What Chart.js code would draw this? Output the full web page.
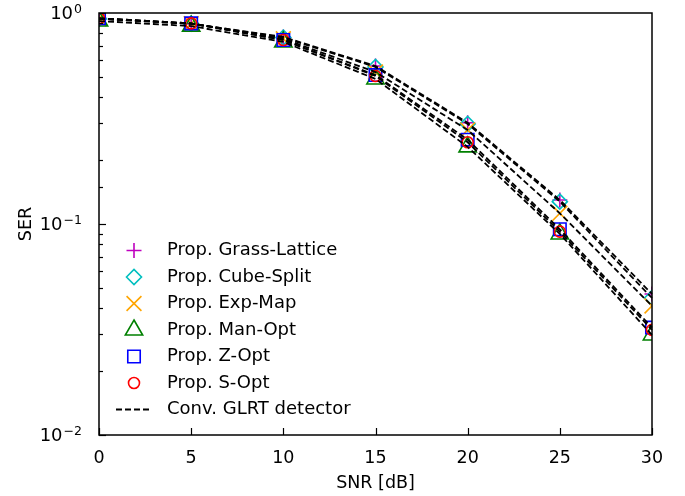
<!DOCTYPE html>
<html>
<head>
<meta charset="utf-8">
<script src="https://cdn.jsdelivr.net/npm/chart.js@4.4.1/dist/chart.umd.min.js"></script>
<style>
  html, body { margin: 0; padding: 0; background: #fff; }
  #wrap { width: 685px; height: 496px; }
</style>
</head>
<body>
<div id="wrap"><canvas id="serChart"></canvas></div>
<script>
// SNR points (dB)
const snr = [0, 5, 10, 15, 20, 25, 30];

// SER
const grassLattice = [0.940, 0.890, 0.770, 0.561, 0.302, 0.130, 0.0466];
const cubeSplit    = [0.940, 0.890, 0.765, 0.555, 0.298, 0.1276, 0.0446];
const expMap       = [0.940, 0.890, 0.755, 0.525, 0.279, 0.1124, 0.0409];
const manOpt       = [0.916, 0.867, 0.729, 0.487, 0.232, 0.0897, 0.0298];
const zOpt         = [0.944, 0.893, 0.745, 0.508, 0.251, 0.0944, 0.0323];
const sOpt         = [0.944, 0.893, 0.745, 0.503, 0.244, 0.0920, 0.0315];

const xTicks = [0, 5, 10, 15, 20, 25, 30];
const yDecades = [1, 0.1, 0.01];
const yDecadeExp = ['0', '\u22121', '\u22122'];

const FONT = "'DejaVu Sans', sans-serif";
const DASH = [6, 3];

function pts(arr) { return snr.map((s, i) => ({ x: s, y: arr[i] })); }

function markerSet(label, data, color, style, radius, order) {
  return {
    label: label, data: pts(data), showLine: false,
    borderColor: color, backgroundColor: 'rgba(0,0,0,0)',
    pointStyle: style, pointRadius: radius, pointHoverRadius: radius,
    pointBorderWidth: 1.6, pointBackgroundColor: 'rgba(0,0,0,0)',
    clip: 0, order: order, isMarker: true
  };
}

function glrtLine(data) {
  return {
    label: 'Conv. GLRT detector', data: pts(data),
    borderColor: '#000', borderWidth: 1.8, borderDash: DASH,
    pointRadius: 0, fill: false, tension: 0, clip: 2, order: 0
  };
}

const datasets = [
  markerSet('Prop. Grass-Lattice', grassLattice, '#bf00bf', 'cross', 7.5, 6),
  markerSet('Prop. Cube-Split', cubeSplit, '#00bfbf', 'rectRot', 7.5, 5),
  markerSet('Prop. Exp-Map', expMap, '#ffa500', 'crossRot', 10.5, 4),
  markerSet('Prop. Man-Opt', manOpt, '#008000', 'triangle', 10, 3),
  markerSet('Prop. Z-Opt', zOpt, '#0000ff', 'rect', 8.8, 2),
  markerSet('Prop. S-Opt', sOpt, '#ff0000', 'circle', 5.5, 1),
  glrtLine(grassLattice), glrtLine(cubeSplit), glrtLine(expMap),
  glrtLine(manOpt), glrtLine(zOpt), glrtLine(sOpt)
];

function isDecade(v) {
  const l = Math.log10(v);
  return Math.abs(l - Math.round(l)) < 1e-6;
}

function drawMarker(ctx, ds, x, y) {
  ctx.save();
  ctx.strokeStyle = ds.borderColor;
  ctx.fillStyle = 'rgba(0,0,0,0)';
  ctx.lineWidth = ds.pointBorderWidth;
  Chart.helpers.drawPoint(ctx, { pointStyle: ds.pointStyle, radius: ds.pointRadius, rotation: 0, borderWidth: ds.pointBorderWidth }, x, y);
  ctx.restore();
}

const axesDecor = {
  id: 'axesDecor',
  afterDraw(chart) {
    const { ctx, chartArea: a, scales: { x, y } } = chart;
    ctx.save();
    ctx.strokeStyle = '#000';
    ctx.lineWidth = 1.2;
    // y ticks, pointing in
    y.ticks.forEach(t => {
      const py = Math.round(y.getPixelForValue(t.value)) + 0.5;
      const len = isDecade(t.value) ? 7 : 4;
      ctx.beginPath(); ctx.moveTo(a.left, py); ctx.lineTo(a.left + len, py); ctx.stroke();
    });
    // x ticks, pointing in
    xTicks.forEach(v => {
      const px = Math.round(x.getPixelForValue(v)) + 0.5;
      ctx.beginPath(); ctx.moveTo(px, a.bottom); ctx.lineTo(px, a.bottom - 7); ctx.stroke();
    });
    // frame
    ctx.lineWidth = 1.5;
    ctx.strokeRect(a.left, a.top, a.right - a.left, a.bottom - a.top);

    // y decade labels 10^n
    ctx.fillStyle = '#000';
    ctx.textBaseline = 'middle';
    yDecades.forEach((v, i) => {
      const py = y.getPixelForValue(v);
      ctx.font = '12.5px ' + FONT;
      const ew = ctx.measureText(yDecadeExp[i]).width;
      ctx.textAlign = 'left';
      const right = a.left - 17;
      ctx.fillText(yDecadeExp[i], right - ew, py - 3.5);
      ctx.font = '18px ' + FONT;
      ctx.textAlign = 'right';
      ctx.fillText('10', right - ew - 1, py + 1.5);
    });

    // legend inside the axes
    const rowY0 = 250.5, rowH = 26.5, mx = 134, tx = 167;
    ctx.font = '18px ' + FONT;
    ctx.textAlign = 'left';
    ctx.textBaseline = 'middle';
    const markers = chart.data.datasets.filter(d => d.isMarker);
    markers.forEach((ds, i) => {
      const ry = rowY0 + i * rowH;
      drawMarker(ctx, ds, mx, ry);
      ctx.fillStyle = '#000';
      ctx.fillText(ds.label, tx, ry);
    });
    const ly = rowY0 + markers.length * rowH;
    ctx.strokeStyle = '#000';
    ctx.lineWidth = 1.8;
    ctx.setLineDash(DASH);
    ctx.beginPath(); ctx.moveTo(116, ly); ctx.lineTo(152, ly); ctx.stroke();
    ctx.setLineDash([]);
    ctx.fillText('Conv. GLRT detector', tx, ly);
    ctx.restore();
  }
};

const ctx = document.getElementById('serChart').getContext('2d');
const serChart = new Chart(ctx, {
  type: 'line',
  data: { datasets: datasets },
  options: {
    responsive: true,
    maintainAspectRatio: false,
    animation: false,
    layout: { padding: { left: 0, right: 33, top: 13, bottom: 0 } },
    plugins: { legend: { display: false }, tooltip: { enabled: false } },
    scales: {
      x: {
        type: 'linear', min: 0, max: 30,
        afterFit: s => { s.height = 61; },
        afterBuildTicks: s => { s.ticks = xTicks.map(v => ({ value: v })); },
        grid: { display: false, drawTicks: false },
        border: { display: false },
        ticks: { color: '#000', padding: 13, maxRotation: 0, font: { family: FONT, size: 17.5 } },
        title: { display: true, text: 'SNR [dB]', color: '#000', padding: { top: 0, bottom: 2 }, font: { family: FONT, size: 17.5 } }
      },
      y: {
        type: 'logarithmic', min: 0.01, max: 1,
        afterFit: s => { s.width = 99; },
        grid: { display: false, drawTicks: false },
        border: { display: false },
        ticks: { display: false },
        title: { display: true, text: 'SER', color: '#000', padding: { top: 16, bottom: 0 }, font: { family: FONT, size: 17.5 } }
      }
    }
  },
  plugins: [axesDecor]
});
</script>
</body>
</html>
